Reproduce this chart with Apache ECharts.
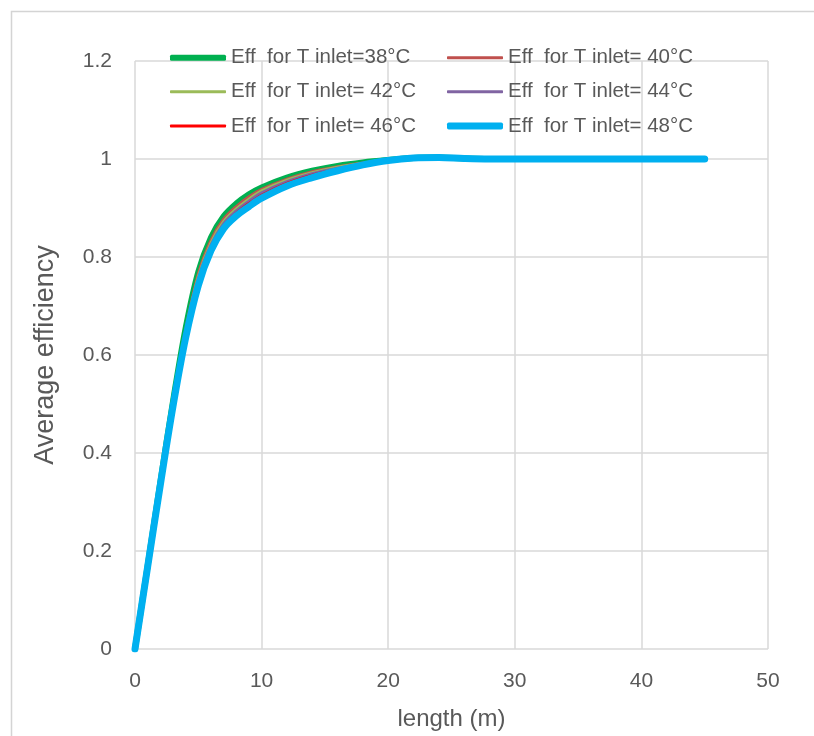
<!DOCTYPE html>
<html><head><meta charset="utf-8">
<script src="https://cdn.jsdelivr.net/npm/echarts@6/dist/echarts.min.js"></script>
<style>html,body{margin:0;padding:0;background:#fff}#c{width:814px;height:736px}</style>
</head><body><div id="c"></div>
<script>
const lengths = [0,1,2,3,4,5,6,7,8,9,10,12,14,16,18,20,22,24,26,28,30,35,40,45];
const eff38 = [0,0.170,0.340,0.505,0.655,0.770,0.840,0.883,0.909,0.928,0.942,0.962,0.976,0.986,0.993,0.998,1.002,1.003,1.001,1.000,1.000,1.000,1.000,1.000];
const eff40 = [0,0.170,0.339,0.503,0.651,0.765,0.834,0.877,0.903,0.923,0.938,0.959,0.974,0.984,0.992,0.998,1.002,1.003,1.001,1.000,1.000,1.000,1.000,1.000];
const eff42 = [0,0.169,0.338,0.501,0.647,0.760,0.829,0.872,0.898,0.918,0.935,0.957,0.972,0.983,0.991,0.998,1.002,1.003,1.001,1.000,1.000,1.000,1.000,1.000];
const eff44 = [0,0.169,0.337,0.499,0.643,0.755,0.824,0.868,0.894,0.914,0.931,0.954,0.970,0.981,0.990,0.997,1.002,1.003,1.001,1.000,1.000,1.000,1.000,1.000];
const eff46 = [0,0.168,0.336,0.497,0.639,0.749,0.819,0.863,0.889,0.909,0.926,0.950,0.967,0.979,0.989,0.997,1.002,1.003,1.001,1.000,1.000,1.000,1.000,1.000];
const eff48 = [0,0.168,0.335,0.495,0.635,0.742,0.813,0.858,0.884,0.903,0.920,0.945,0.962,0.976,0.988,0.997,1.002,1.003,1.001,1.000,1.000,1.000,1.000,1.000];
const seriesNames = ['Eff  for T inlet=38°C','Eff  for T inlet= 40°C','Eff  for T inlet= 42°C','Eff  for T inlet= 44°C','Eff  for T inlet= 46°C','Eff  for T inlet= 48°C'];
const xTicks = [0,10,20,30,40,50];
const yTicks = [0,0.2,0.4,0.6,0.8,1,1.2];

const allData = [eff38,eff40,eff42,eff44,eff46,eff48];
const colors = ['#00b050','#c0504d','#9bbb59','#8064a2','#ff0000','#00b0f0'];
const widths = [6,3,3,3,3,7];
const font = 'Liberation Sans, Arial, sans-serif';

// legend placement: column lefts and row centres
const legCols = [170, 447];
const legRows = [57.7, 91.7, 126];
const legends = seriesNames.map((n,i)=>{
  const col = i % 2, row = Math.floor(i/2);
  return {
    left: legCols[col], top: legRows[row] - 12, padding:0,
    itemWidth:56, itemHeight:widths[i], icon:'roundRect',
    data:[{name:n, icon:'roundRect'}],
    selectedMode:false,
    textStyle:{fontFamily:font, fontSize:20.5, color:'#595959', lineHeight:24}
  };
});

const chart = echarts.init(document.getElementById('c'), null, {renderer:'canvas'});
chart.setOption({
  animation:false,
  backgroundColor:'#fff',
  graphic:[{type:'rect', left:9, top:9, shape:{width:900,height:900}, style:{fill:'none', stroke:'#d4d4d4', lineWidth:1.5}, silent:true, z:-10}],
  grid:{left:135, top:61, right:46, bottom:86, containLabel:false},
  legend:legends,
  xAxis:{type:'value', min:xTicks[0], max:xTicks[xTicks.length-1], interval:10,
    name:'length (m)', nameLocation:'middle', nameGap:58,
    nameTextStyle:{fontFamily:font, fontSize:24, color:'#595959'},
    axisLine:{show:false}, axisTick:{show:false},
    axisLabel:{fontFamily:font, fontSize:21, color:'#595959', margin:22},
    splitLine:{show:true, lineStyle:{color:'#d9d9d9', width:1.5}}},
  yAxis:{type:'value', min:yTicks[0], max:yTicks[yTicks.length-1], interval:0.2,
    name:'Average efficiency', nameLocation:'middle', nameGap:76, nameRotate:90,
    nameTextStyle:{fontFamily:font, fontSize:27, color:'#595959'},
    axisLine:{show:false}, axisTick:{show:false},
    axisLabel:{fontFamily:font, fontSize:21, color:'#595959', margin:23},
    splitLine:{show:true, lineStyle:{color:'#d9d9d9', width:1.5}}},
  series: allData.map((d,i)=>({
    name:seriesNames[i], type:'line', smooth:0.35, symbol:'none',
    data:lengths.map((x,j)=>[x,d[j]]),
    lineStyle:{color:colors[i], width:widths[i], cap:'round'},
    itemStyle:{color:colors[i]},
    z: 2+i
  }))
});
</script></body></html>
